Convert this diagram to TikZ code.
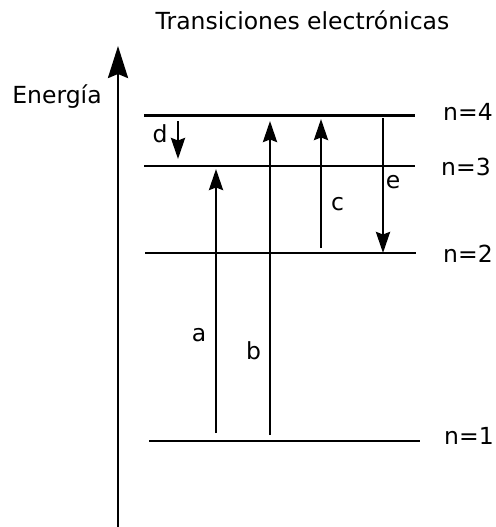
\documentclass[tikz,border=0pt]{standalone}
\usepackage{fontspec}
\setmainfont{DejaVu Sans}
\usetikzlibrary{arrows.meta}
\begin{document}
\begin{tikzpicture}[x=1pt,y=-1pt,
  level/.style={line width=2.8pt},
  trans/.style={line width=2.8pt,-{Stealth[length=21pt,width=14pt,inset=2.5pt]}},
  axisline/.style={line width=2.8pt,-{Stealth[length=32pt,width=20pt,inset=4pt]}},
  lbl/.style={inner sep=0pt,anchor=base,font=\fontsize{23.5}{28}\selectfont},
  nlbl/.style={inner sep=0pt,anchor=base west,font=\fontsize{23.5}{28}\selectfont}]
\useasboundingbox (0,0) rectangle (495,527);
% title and axis label
\node[lbl] (title) at (302.5,30) {Transiciones electrónicas};
\node[lbl] (energia) at (57,103) {Energía};
% axis
\coordinate (ax0) at (118,527);
\coordinate (ax1) at (118,46);
\draw[axisline] (ax0) -- (ax1);
% levels
\coordinate (l4a) at (144,115.7); \coordinate (l4b) at (415,115.7);
\coordinate (l3a) at (144,166);   \coordinate (l3b) at (415,166);
\coordinate (l2a) at (145,253);   \coordinate (l2b) at (416,253);
\coordinate (l1a) at (149,441);   \coordinate (l1b) at (420,441);
\draw[level] (l4a) -- (l4b);
\draw[level] (l3a) -- (l3b);
\draw[level] (l2a) -- (l2b);
\draw[level] (l1a) -- (l1b);
\node[nlbl] (n4) at (443,120) {n=4};
\node[nlbl] (n3) at (441,175) {n=3};
\node[nlbl] (n2) at (443,262) {n=2};
\node[nlbl] (n1) at (444,444) {n=1};
% transitions
\coordinate (d0) at (178,121); \coordinate (d1) at (178,159);
\coordinate (a0) at (216,433); \coordinate (a1) at (216,169);
\coordinate (b0) at (270,435); \coordinate (b1) at (270,121);
\coordinate (c0) at (321,248); \coordinate (c1) at (321,119);
\coordinate (e0) at (383,118); \coordinate (e1) at (383,253);
\draw[trans] (d0) -- (d1);
\draw[trans] (a0) -- (a1);
\draw[trans] (b0) -- (b1);
\draw[trans] (c0) -- (c1);
\draw[trans] (e0) -- (e1);
\node[lbl] (ld) at (160,142) {d};
\node[lbl] (la) at (199,341) {a};
\node[lbl] (lb) at (253.5,359) {b};
\node[lbl] (lc) at (337.5,210) {c};
\node[lbl] (le) at (393,188) {e};
\end{tikzpicture}
\end{document}
